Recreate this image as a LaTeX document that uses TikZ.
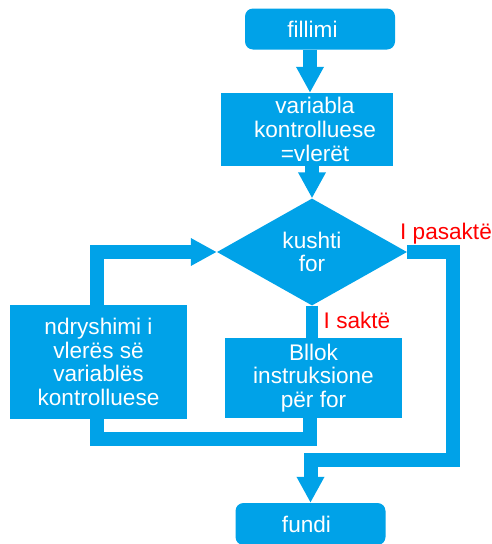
\documentclass[tikz,border=0pt]{standalone}
\usepackage{fontspec}
\setmainfont{Liberation Sans}
\usetikzlibrary{arrows.meta,shapes.geometric}
\definecolor{flowblue}{RGB}{0,162,232}
\definecolor{labelred}{RGB}{255,0,0}
\begin{document}
\begin{tikzpicture}[x=1pt,y=-1pt,
  every node/.style={font=\fontsize{22.6}{23.6}\selectfont, align=center, inner sep=0pt},
  every label/.style={text=white},
  terminal/.style={fill=flowblue, text=white, rounded corners=8pt, minimum width=150pt, minimum height=41pt},
  process/.style={fill=flowblue, text=white, rectangle},
  decision/.style={fill=flowblue, text=white, diamond, aspect=1.78, minimum width=190pt, minimum height=107pt},
  branchlabel/.style={text=labelred},
  flowline/.style={draw=flowblue, line width=14pt},
  flowarrow/.style={flowline, -{Triangle[length=26pt,width=26pt]}}
]
\useasboundingbox (0,0) rectangle (492,544);

% blocks (some captions sit slightly off the block centre)
\node[terminal, label={[xshift=-7.5pt]center:fillimi}] (start) at (320,29) {};
\node[process, minimum width=172pt, minimum height=73pt,
  label={[xshift=8pt]center:{variabla\\kontrolluese\\=vlerët}}] (init) at (307,129.5) {};
\node[decision] (cond) at (312,252) {kushti\\for};
\node[process, minimum width=177pt, minimum height=80pt] (body) at (313.5,378)
  {Bllok\\instruksione\\për for};
\node[process, minimum width=177pt, minimum height=114pt] (update) at (98.5,362)
  {ndryshimi i\\vlerës së\\variablës\\kontrolluese};
\node[terminal, minimum height=42pt, label={[xshift=-4pt]center:fundi}] (end) at (310.5,524) {};

% branch labels
\node[branchlabel] (no) at (446,234) {I pasaktë};
\node[branchlabel] (yes) at (357,320) {I saktë};

% connectors
\draw[flowarrow] ([xshift=-10pt]start.south) -- ([xshift=3pt]init.north);
\draw[flowarrow] (init.south -| cond.north) -- (cond.north);
\draw[flowline, line width=12pt] (cond.south) -- (body.north -| cond.south);
\draw[flowline] ([xshift=-3.5pt]body.south) -- ++(0,20.5) -| ([xshift=-1.5pt]update.south);
\draw[flowarrow] ([xshift=-1.5pt]update.north) |- (cond.west);
\draw[flowarrow] (cond.east) -- ++(46,0) -- ++(0,208) -| (end.north);
\end{tikzpicture}
\end{document}
